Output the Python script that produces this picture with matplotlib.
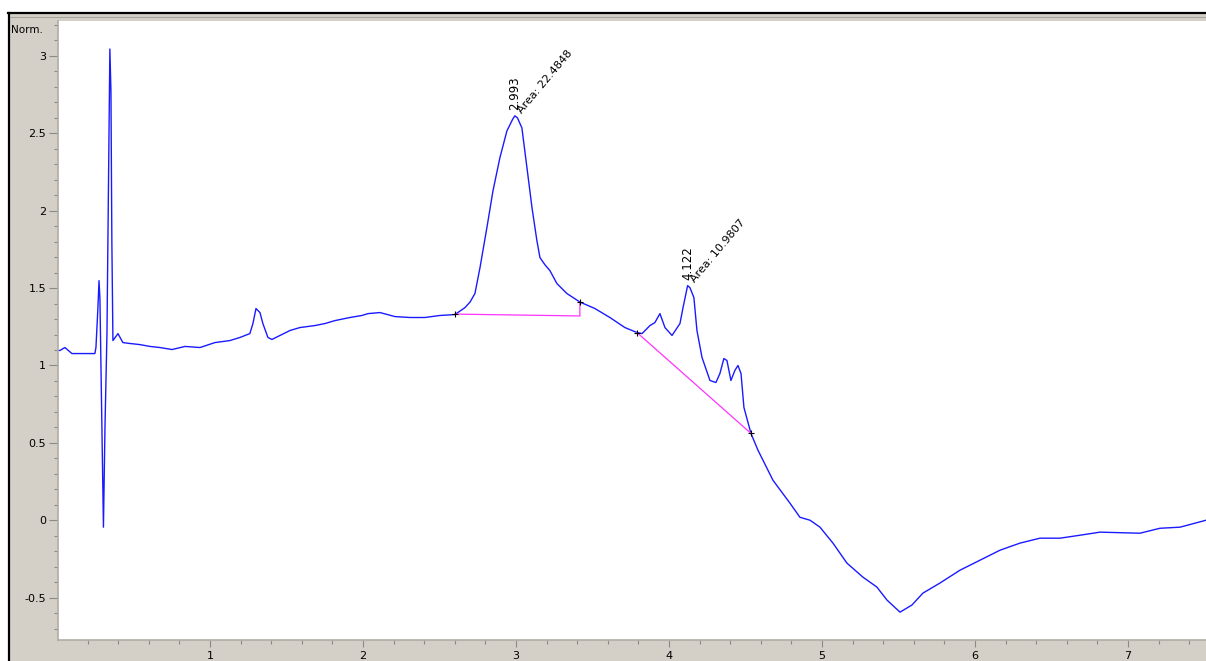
import matplotlib
matplotlib.use("Agg")
import matplotlib.pyplot as plt
from matplotlib.patches import Rectangle
from matplotlib.lines import Line2D
from matplotlib.ticker import MultipleLocator, FormatStrFormatter

# ---- data ----
time_min = [0.007, 0.020, 0.052, 0.098, 0.150, 0.248, 0.255, 0.268, 0.275, 0.281,
            0.288, 0.301, 0.304, 0.314, 0.327, 0.340, 0.346, 0.353, 0.359, 0.366,
            0.399, 0.431, 0.477, 0.542, 0.608, 0.673, 0.752, 0.837, 0.935, 1.033,
            1.131, 1.196, 1.261, 1.281, 1.301, 1.327, 1.346, 1.379, 1.405, 1.458,
            1.523, 1.588, 1.686, 1.752, 1.817, 1.915, 1.993, 2.033, 2.111, 2.209,
            2.307, 2.405, 2.503, 2.601, 2.667, 2.700, 2.732, 2.765, 2.810, 2.850,
            2.895, 2.941, 2.980, 2.993, 3.010, 3.039, 3.072, 3.105, 3.137, 3.157,
            3.190, 3.222, 3.268, 3.333, 3.418, 3.516, 3.614, 3.712, 3.791, 3.824,
            3.876, 3.908, 3.941, 3.974, 4.020, 4.072, 4.092, 4.122, 4.137, 4.163,
            4.183, 4.216, 4.268, 4.307, 4.333, 4.359, 4.379, 4.405, 4.431, 4.451,
            4.471, 4.490, 4.536, 4.582, 4.680, 4.791, 4.856, 4.922, 4.987, 5.072,
            5.163, 5.268, 5.359, 5.425, 5.510, 5.588, 5.660, 5.771, 5.902, 6.033,
            6.163, 6.294, 6.425, 6.556, 6.686, 6.817, 7.078, 7.209, 7.340, 7.510]
signal = [1.097, 1.097, 1.116, 1.077, 1.077, 1.077, 1.116, 1.374, 1.548, 1.432,
          0.987, 0.174, -0.045, 0.600, 1.206, 2.500, 3.045, 2.774, 1.800, 1.161,
          1.206, 1.148, 1.142, 1.135, 1.123, 1.116, 1.103, 1.123, 1.116, 1.148,
          1.161, 1.181, 1.206, 1.271, 1.368, 1.342, 1.271, 1.181, 1.168, 1.194,
          1.226, 1.245, 1.258, 1.271, 1.290, 1.310, 1.323, 1.335, 1.342, 1.316,
          1.310, 1.310, 1.323, 1.329, 1.374, 1.410, 1.465, 1.632, 1.890, 2.129,
          2.342, 2.516, 2.594, 2.613, 2.600, 2.535, 2.277, 2.019, 1.806, 1.697,
          1.650, 1.613, 1.529, 1.465, 1.410, 1.368, 1.310, 1.245, 1.213, 1.206,
          1.258, 1.277, 1.335, 1.245, 1.194, 1.271, 1.374, 1.516, 1.503, 1.439,
          1.226, 1.052, 0.903, 0.890, 0.948, 1.045, 1.032, 0.903, 0.968, 1.000,
          0.948, 0.729, 0.561, 0.452, 0.258, 0.110, 0.019, 0.000, -0.045, -0.148,
          -0.277, -0.368, -0.432, -0.516, -0.594, -0.548, -0.471, -0.406, -0.323, -0.258,
          -0.194, -0.148, -0.116, -0.116, -0.097, -0.077, -0.084, -0.052, -0.045, 0.000]

# integration baselines: (t_start, t_end), (level_start, level_end)
base1_t = [2.601, 3.418, 3.418]
base1_y = [1.332, 1.320, 1.410]
base2_t = [3.791, 4.536]
base2_y = [1.213, 0.561]

peak_times = [2.993, 4.122]
peak_heights = [2.613, 1.516]
peak_labels = ["2.993", "4.122"]
peak_areas = ["Area: 22.4848", "Area: 10.9807"]

# ---- figure ----
W, H = 1206, 661
fig = plt.figure(figsize=(W / 100, H / 100), dpi=100, facecolor="white")

# grey window panel with black top/left edge
fig.add_artist(Rectangle((8 / W, 0), 1, (H - 13) / H, transform=fig.transFigure,
                         facecolor="#d4d0c8", edgecolor="none", zorder=0))
fig.add_artist(Line2D([8.5 / W, 8.5 / W], [0, (H - 12.5) / H], transform=fig.transFigure,
                      color="black", lw=1.6))
fig.add_artist(Line2D([8 / W, 1], [(H - 12.5) / H, (H - 12.5) / H], transform=fig.transFigure,
                      color="black", lw=1.6))
fig.add_artist(Line2D([10 / W, 1], [(H - 17) / H, (H - 17) / H], transform=fig.transFigure,
                      color="#a8a59e", lw=0.8))

ax = fig.add_axes([58 / W, 21 / H, (W - 58) / W, (640 - 21) / H])
ax.set_facecolor("white")

ax.plot(time_min, signal, color="#1a1aff", lw=1.0)
ax.plot(base1_t, base1_y, color="#ff33ff", lw=0.9)
ax.plot(base2_t, base2_y, color="#ff33ff", lw=0.9)
ax.plot([base1_t[0], base1_t[1], base2_t[0], base2_t[1]],
        [base1_y[0], base1_y[2], base2_y[0], base2_y[1]],
        linestyle="none", marker="+", ms=4, mew=0.8, color="black")

for t, h, lab, area in zip(peak_times, peak_heights, peak_labels, peak_areas):
    ax.annotate(lab, (t, h), xytext=(0, 6), textcoords="offset pixels",
                rotation=90, ha="center", va="bottom", fontsize=8.5)
    ax.annotate(area, (t, h), xytext=(9, 1), textcoords="offset pixels",
                rotation=50, rotation_mode="anchor", ha="left", va="bottom", fontsize=8)

ax.set_xlim(0.007, 7.51)
ax.set_ylim(-0.774, 3.226)

ax.xaxis.set_major_locator(MultipleLocator(1))
ax.xaxis.set_minor_locator(MultipleLocator(0.2))
ax.yaxis.set_major_locator(MultipleLocator(0.5))
ax.yaxis.set_minor_locator(MultipleLocator(0.1))
ax.xaxis.set_major_formatter(FormatStrFormatter("%g"))
ax.yaxis.set_major_formatter(FormatStrFormatter("%g"))

for side in ["top", "right"]:
    ax.spines[side].set_visible(False)
for side in ["left", "bottom"]:
    ax.spines[side].set_color("#b0ada6")
    ax.spines[side].set_linewidth(1.2)

ax.tick_params(which="major", direction="out", length=6.5, width=0.8,
               color="#8c8a84", labelsize=8, pad=2)
ax.tick_params(which="minor", direction="out", length=3, width=0.8, color="#8c8a84")
ax.tick_params(axis="x", which="major", length=5, pad=3)

fig.text(11 / W, 1 - 30 / H, "Norm.", fontsize=7.5, ha="left", va="center")

fig.savefig("out.png", dpi=100, facecolor=fig.get_facecolor())
